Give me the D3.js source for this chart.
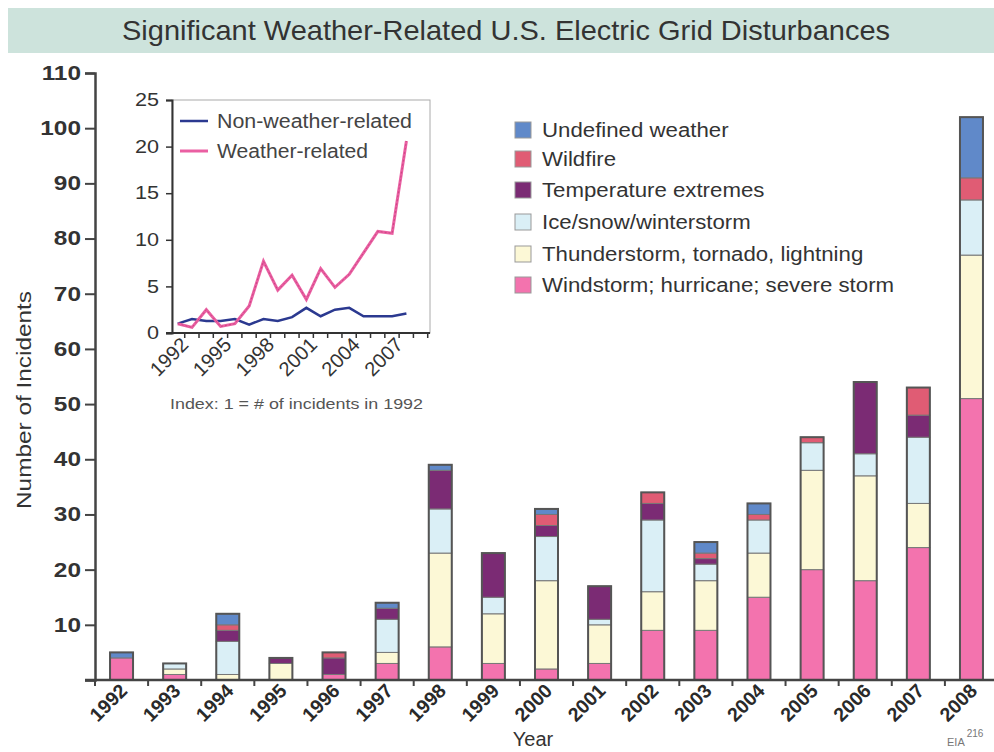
<!DOCTYPE html>
<html>
<head>
<meta charset="utf-8">
<script src="https://cdn.jsdelivr.net/npm/d3@7"></script>
<style>
  body { margin: 0; background: #fff; }
  svg { display: block; font-family: "Liberation Sans", Arial, sans-serif; }
</style>
</head>
<body>
<script>
// ---- data ----
var years = ["1992","1993","1994","1995","1996","1997","1998","1999","2000",
             "2001","2002","2003","2004","2005","2006","2007","2008"];
// stacked from the bottom up
var windstorm    = [4, 1, 0, 0, 1, 3,  6, 3,  2, 3,  9, 9, 15, 20, 18, 24, 51];
var thunderstorm = [0, 1, 1, 3, 0, 2, 17, 9, 16, 7,  7, 9,  8, 18, 19,  8, 26];
var iceSnow      = [0, 1, 6, 0, 0, 6,  8, 3,  8, 1, 13, 3,  6,  5,  4, 12, 10];
var temperature  = [0, 0, 2, 1, 3, 2,  7, 8,  2, 6,  3, 1,  0,  0, 13,  4,  0];
var wildfire     = [0, 0, 1, 0, 1, 0,  0, 0,  2, 0,  2, 1,  1,  1,  0,  5,  4];
var undefinedWx  = [1, 0, 2, 0, 0, 1,  1, 0,  1, 0,  0, 2,  2,  0,  0,  0, 11];

var seriesNames = ["Windstorm; hurricane; severe storm", "Thunderstorm, tornado, lightning",
                   "Ice/snow/winterstorm", "Temperature extremes", "Wildfire", "Undefined weather"];
var seriesColors = ["#f373ae", "#fcf8d6", "#daeff6", "#7b2b74", "#e05c74", "#6089c9"];

var yTicks = [10, 20, 30, 40, 50, 60, 70, 80, 90, 100, 110];

// inset: index, 1 = # of incidents in 1992
var insetYears = [1992,1993,1994,1995,1996,1997,1998,1999,2000,2001,2002,2003,2004,2005,2006,2007,2008];
var weatherIdx    = [1, 0.6, 2.5, 0.7, 1.0, 2.9, 7.7, 4.6, 6.2, 3.6, 6.9, 4.9, 6.3, 8.6, 10.9, 10.7, 20.6];
var nonWeatherIdx = [1, 1.5, 1.3, 1.3, 1.5, 0.9, 1.5, 1.3, 1.7, 2.7, 1.8, 2.5, 2.7, 1.8, 1.8, 1.8, 2.1];
var insetTickYears = [1992, 1995, 1998, 2001, 2004, 2007];

// the source picture is a bit wide, so text gets stretched sideways
function widen(sel, f) {
  sel.each(function() {
    var len = this.getComputedTextLength();
    d3.select(this).attr("textLength", len * f).attr("lengthAdjust", "spacingAndGlyphs");
  });
}

// ---- svg ----
var W = 994, H = 752;
var svg = d3.select("body").append("svg").attr("width", W).attr("height", H);
svg.append("rect").attr("width", W).attr("height", H).attr("fill", "#fff");

// title band
svg.append("rect").attr("x", 8).attr("y", 8).attr("width", W - 8).attr("height", 45)
  .attr("fill", "#cde3dc");
svg.append("text").attr("x", 506).attr("y", 40).attr("text-anchor", "middle")
  .style("font-family", "'Liberation Sans Narrow', 'Liberation Sans', Arial, sans-serif")
  .style("font-size", "28px").attr("fill", "#333")
  .attr("textLength", 768).attr("lengthAdjust", "spacingAndGlyphs")
  .text("Significant Weather-Related U.S. Electric Grid Disturbances");

// ---- main chart ----
var x = d3.scaleBand().domain(years).range([95, 998]).paddingInner(0.567).paddingOuter(0.283);
var y = d3.scaleLinear().domain([0, 110]).range([680, 73]);

var rows = years.map(function(yr, i) {
  return { year: yr, s0: windstorm[i], s1: thunderstorm[i], s2: iceSnow[i],
           s3: temperature[i], s4: wildfire[i], s5: undefinedWx[i] };
});
var stacked = d3.stack().keys(["s0","s1","s2","s3","s4","s5"])(rows);
function total(d) { return d.s0 + d.s1 + d.s2 + d.s3 + d.s4 + d.s5; }

var gBars = svg.append("g");
stacked.forEach(function(layer, k) {
  gBars.selectAll(".seg" + k)
    .data(layer.filter(function(d) { return d[1] - d[0] > 0; }))
    .enter().append("rect")
    .attr("x", function(d) { return x(d.data.year); })
    .attr("y", function(d) { return y(d[1]); })
    .attr("width", x.bandwidth())
    .attr("height", function(d) { return y(d[0]) - y(d[1]); })
    .attr("fill", seriesColors[k])
    .attr("stroke", "#777").attr("stroke-width", 1);
});
// outline of each bar
gBars.selectAll(".outline").data(rows).enter().append("rect")
  .attr("x", function(d) { return x(d.year); })
  .attr("y", function(d) { return y(total(d)); })
  .attr("width", x.bandwidth())
  .attr("height", function(d) { return y(0) - y(total(d)); })
  .attr("fill", "none").attr("stroke", "#555").attr("stroke-width", 2);

// y axis
var yAxis = svg.append("g").attr("transform", "translate(95,0)")
  .call(d3.axisLeft(y).tickValues([0].concat(yTicks)).tickSize(10).tickPadding(4)
        .tickFormat(function(d) { return d === 0 ? "" : d; }));
yAxis.select(".domain").attr("stroke", "#444").attr("stroke-width", 2.5);
yAxis.selectAll(".tick line").attr("stroke", "#444").attr("stroke-width", 2);
yAxis.selectAll("text").attr("fill", "#333")
  .style("font-size", "20px").style("font-weight", "bold")
  .style("font-family", "'Liberation Sans', Arial, sans-serif");
widen(yAxis.selectAll("text").filter(function(d) { return d !== 0; }), 1.22);

// x axis
var xAxis = svg.append("g");
xAxis.append("line").attr("x1", 85).attr("x2", W).attr("y1", 680).attr("y2", 680)
  .attr("stroke", "#444").attr("stroke-width", 2.5);
xAxis.selectAll(".xt").data(years).enter().append("line")
  .attr("x1", function(d) { return x(d) + x.bandwidth() / 2 - x.step() / 2; })
  .attr("x2", function(d) { return x(d) + x.bandwidth() / 2 - x.step() / 2; })
  .attr("y1", 680).attr("y2", 686).attr("stroke", "#444").attr("stroke-width", 2);
xAxis.selectAll(".xl").data(years).enter().append("text")
  .attr("transform", function(d) {
    return "translate(" + (x(d) + x.bandwidth() / 2 + 7) + ",692) rotate(-45)";
  })
  .attr("text-anchor", "end").attr("fill", "#2a2a2a")
  .style("font-size", "19.5px").style("font-weight", "bold")
  .text(function(d) { return d; });

svg.append("text").attr("x", 533).attr("y", 746).attr("text-anchor", "middle")
  .attr("fill", "#333").style("font-size", "20px").text("Year");
svg.append("text").attr("transform", "translate(31,400) rotate(-90)")
  .attr("text-anchor", "middle").attr("fill", "#333").style("font-size", "20px")
  .attr("textLength", 218).attr("lengthAdjust", "spacingAndGlyphs")
  .text("Number of Incidents");
var eia = svg.append("text").attr("x", 947).attr("y", 746).attr("fill", "#777")
  .style("font-size", "11px");
eia.append("tspan").text("EIA");
eia.append("tspan").attr("dy", -9).attr("dx", 2).style("font-size", "10px").text("216");

// main legend (top entry = top of stack)
var legRowY = [130, 159, 190, 222, 254, 285];
var legend = svg.append("g");
[5, 4, 3, 2, 1, 0].forEach(function(k, i) {
  legend.append("rect").attr("x", 515).attr("y", legRowY[i] - 8).attr("width", 16).attr("height", 16)
    .attr("fill", seriesColors[k]).attr("stroke", "#999").attr("stroke-width", 1);
  legend.append("text").attr("class", "legtext").attr("x", 542).attr("y", legRowY[i] + 7)
    .attr("fill", "#333").style("font-size", "19.5px").text(seriesNames[k]);
});
widen(legend.selectAll(".legtext"), 1.14);

// ---- inset line chart ----
var ix = d3.scaleLinear().domain([1991.6, 2009.65]).range([172, 430]);
var iy = d3.scaleLinear().domain([0, 25]).range([333, 100]);
var inset = svg.append("g");
inset.append("rect").attr("x", 172).attr("y", 100).attr("width", 258).attr("height", 233)
  .attr("fill", "none").attr("stroke", "#aaa").attr("stroke-width", 1);

var iyAxis = inset.append("g").attr("transform", "translate(172,0)")
  .call(d3.axisLeft(iy).tickValues([0, 5, 10, 15, 20, 25]).tickSize(6).tickPadding(7));
iyAxis.select(".domain").attr("stroke", "#333").attr("stroke-width", 2);
iyAxis.selectAll(".tick line").attr("stroke", "#333").attr("stroke-width", 1.5);
iyAxis.selectAll("text").attr("fill", "#333").style("font-size", "18px");
widen(iyAxis.selectAll("text"), 1.2);

inset.append("line").attr("x1", 166).attr("x2", 430).attr("y1", 333).attr("y2", 333)
  .attr("stroke", "#333").attr("stroke-width", 2);
var minorYears = d3.range(1992, 2010);
inset.selectAll(".it").data(minorYears).enter().append("line")
  .attr("x1", function(d) { return ix(d) + 7; }).attr("x2", function(d) { return ix(d) + 7; })
  .attr("y1", 333).attr("y2", 338).attr("stroke", "#333").attr("stroke-width", 1.5);
inset.selectAll(".il").data(insetTickYears).enter().append("text")
  .attr("transform", function(d) { return "translate(" + (ix(d) + 12) + ",346) rotate(-45)"; })
  .attr("text-anchor", "end").attr("fill", "#333").style("font-size", "20px")
  .text(function(d) { return d; });

var iline = d3.line().x(function(d, i) { return ix(insetYears[i]); }).y(function(d) { return iy(d); });
inset.append("path").datum(nonWeatherIdx).attr("d", iline)
  .attr("fill", "none").attr("stroke", "#2b3990").attr("stroke-width", 2.5);
inset.append("path").datum(weatherIdx).attr("d", iline)
  .attr("fill", "none").attr("stroke", "#ea5fa2").attr("stroke-width", 3);
inset.append("path").datum(weatherIdx).attr("d", iline)
  .attr("fill", "none").attr("stroke", "#b8356f").attr("stroke-width", 1)
  .attr("stroke-dasharray", "2,2").attr("opacity", 0.6);

// inset legend
inset.append("line").attr("x1", 180).attr("x2", 208).attr("y1", 121).attr("y2", 121)
  .attr("stroke", "#2b3990").attr("stroke-width", 2.5);
inset.append("text").attr("x", 217).attr("y", 128).attr("fill", "#444")
  .style("font-size", "19.5px").attr("textLength", 195).attr("lengthAdjust", "spacingAndGlyphs")
  .text("Non-weather-related");
inset.append("line").attr("x1", 180).attr("x2", 208).attr("y1", 151).attr("y2", 151)
  .attr("stroke", "#ea5fa2").attr("stroke-width", 3);
inset.append("text").attr("x", 217).attr("y", 158).attr("fill", "#444")
  .style("font-size", "19.5px").attr("textLength", 151).attr("lengthAdjust", "spacingAndGlyphs")
  .text("Weather-related");

svg.append("text").attr("x", 170).attr("y", 409).attr("fill", "#555")
  .style("font-size", "15px").attr("textLength", 253).attr("lengthAdjust", "spacingAndGlyphs")
  .text("Index: 1 = # of incidents in 1992");
</script>
</body>
</html>
